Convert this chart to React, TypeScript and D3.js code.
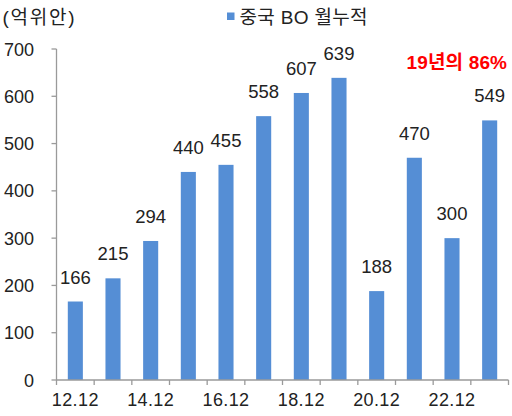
import React, { useLayoutEffect, useRef, useState } from "react";
import * as d3 from "d3";

const categories = ["12.12","13.12","14.12","15.12","16.12","17.12","18.12","19.12","20.12","21.12","22.12","23.10"];
const values = [166, 215, 294, 440, 455, 558, 607, 639, 188, 470, 300, 549];
const yTicks = [0, 100, 200, 300, 400, 500, 600, 700];
const shownLabels = ["12.12","14.12","16.12","18.12","20.12","22.12"];
const seriesName = "중국 BO 월누적";
const unitLabel = "(억위안)";
const note = "19년의 86%";

const W = 512, H = 416;
const left = 56.5, right = 508.5, top = 49, bottom = 380;
const FONT = "'Liberation Sans', Arial, 'Noto Sans CJK KR', sans-serif";
const BAR = "#558ed5";
const AXIS = "#9a9a9a";
const TEXT = "#222";

function FitText(props: { x: number; y: number; width: number; text: string; [k: string]: any }) {
  const { x, y, width, text, ...rest } = props;
  const ref = useRef<SVGTextElement>(null);
  const [ls, setLs] = useState(0);
  useLayoutEffect(() => {
    if (!ref.current) return;
    const natural = ref.current.getComputedTextLength();
    const n = Array.from(text).length;
    if (n > 1) setLs((width - natural) / (n - 1));
  }, [text, width]);
  return (
    <text ref={ref} x={x} y={y} letterSpacing={ls} {...rest}>{text}</text>
  );
}

export default function App() {
  const x = d3.scaleBand<string>().domain(categories).range([left, right]).padding(0);
  const y = d3.scaleLinear().domain([0, 700]).range([bottom, top]);
  const bw = x.bandwidth() * 0.4;
  return (
    <svg width={W} height={H} style={{ position: "absolute", left: 0, top: 0, background: "#fff" }} fontFamily={FONT}>
      <FitText x={2.5} y={23.5} width={72} text={unitLabel} fontSize={19} fill={TEXT} />
      <rect x={227} y={12.5} width={7.5} height={7.5} fill={BAR} />
      <FitText x={239.5} y={23.5} width={128} text={seriesName} fontSize={19} fill={TEXT} />
      <FitText x={406.5} y={69} width={100.5} text={note} fontSize={19} fontWeight="bold" fill="#ff0000" />
      {values.map((v, i) => {
        const cx = (x(categories[i]) as number) + x.bandwidth() / 2;
        return (
          <g key={i}>
            <rect x={cx - bw / 2} y={y(v)} width={bw} height={bottom - y(v)} fill={BAR} />
            <text x={cx} y={y(v) - 18} fontSize={18.5} fill={TEXT} textAnchor="middle">{v}</text>
          </g>
        );
      })}
      <line x1={left} x2={left} y1={top} y2={bottom} stroke={AXIS} strokeWidth={1.3} />
      {yTicks.map((t) => (
        <g key={t}>
          <line x1={left - 5} x2={left} y1={y(t)} y2={y(t)} stroke={AXIS} strokeWidth={1.3} />
          <text x={34} y={y(t) + 6.5} fontSize={18} fill={TEXT} textAnchor="end">{t}</text>
        </g>
      ))}
      <line x1={left} x2={right} y1={bottom} y2={bottom} stroke={AXIS} strokeWidth={1.3} />
      {categories.map((c) => (
        <line key={c} x1={(x(c) as number)} x2={(x(c) as number)} y1={bottom} y2={bottom + 5} stroke={AXIS} strokeWidth={1.3} />
      ))}
      <line x1={right} x2={right} y1={bottom} y2={bottom + 5} stroke={AXIS} strokeWidth={1.3} />
      {shownLabels.map((c) => (
        <text key={c} x={(x(c) as number) + x.bandwidth() / 2} y={406} fontSize={18} fill={TEXT} textAnchor="middle" letterSpacing={0.4}>{c}</text>
      ))}
    </svg>
  );
}
